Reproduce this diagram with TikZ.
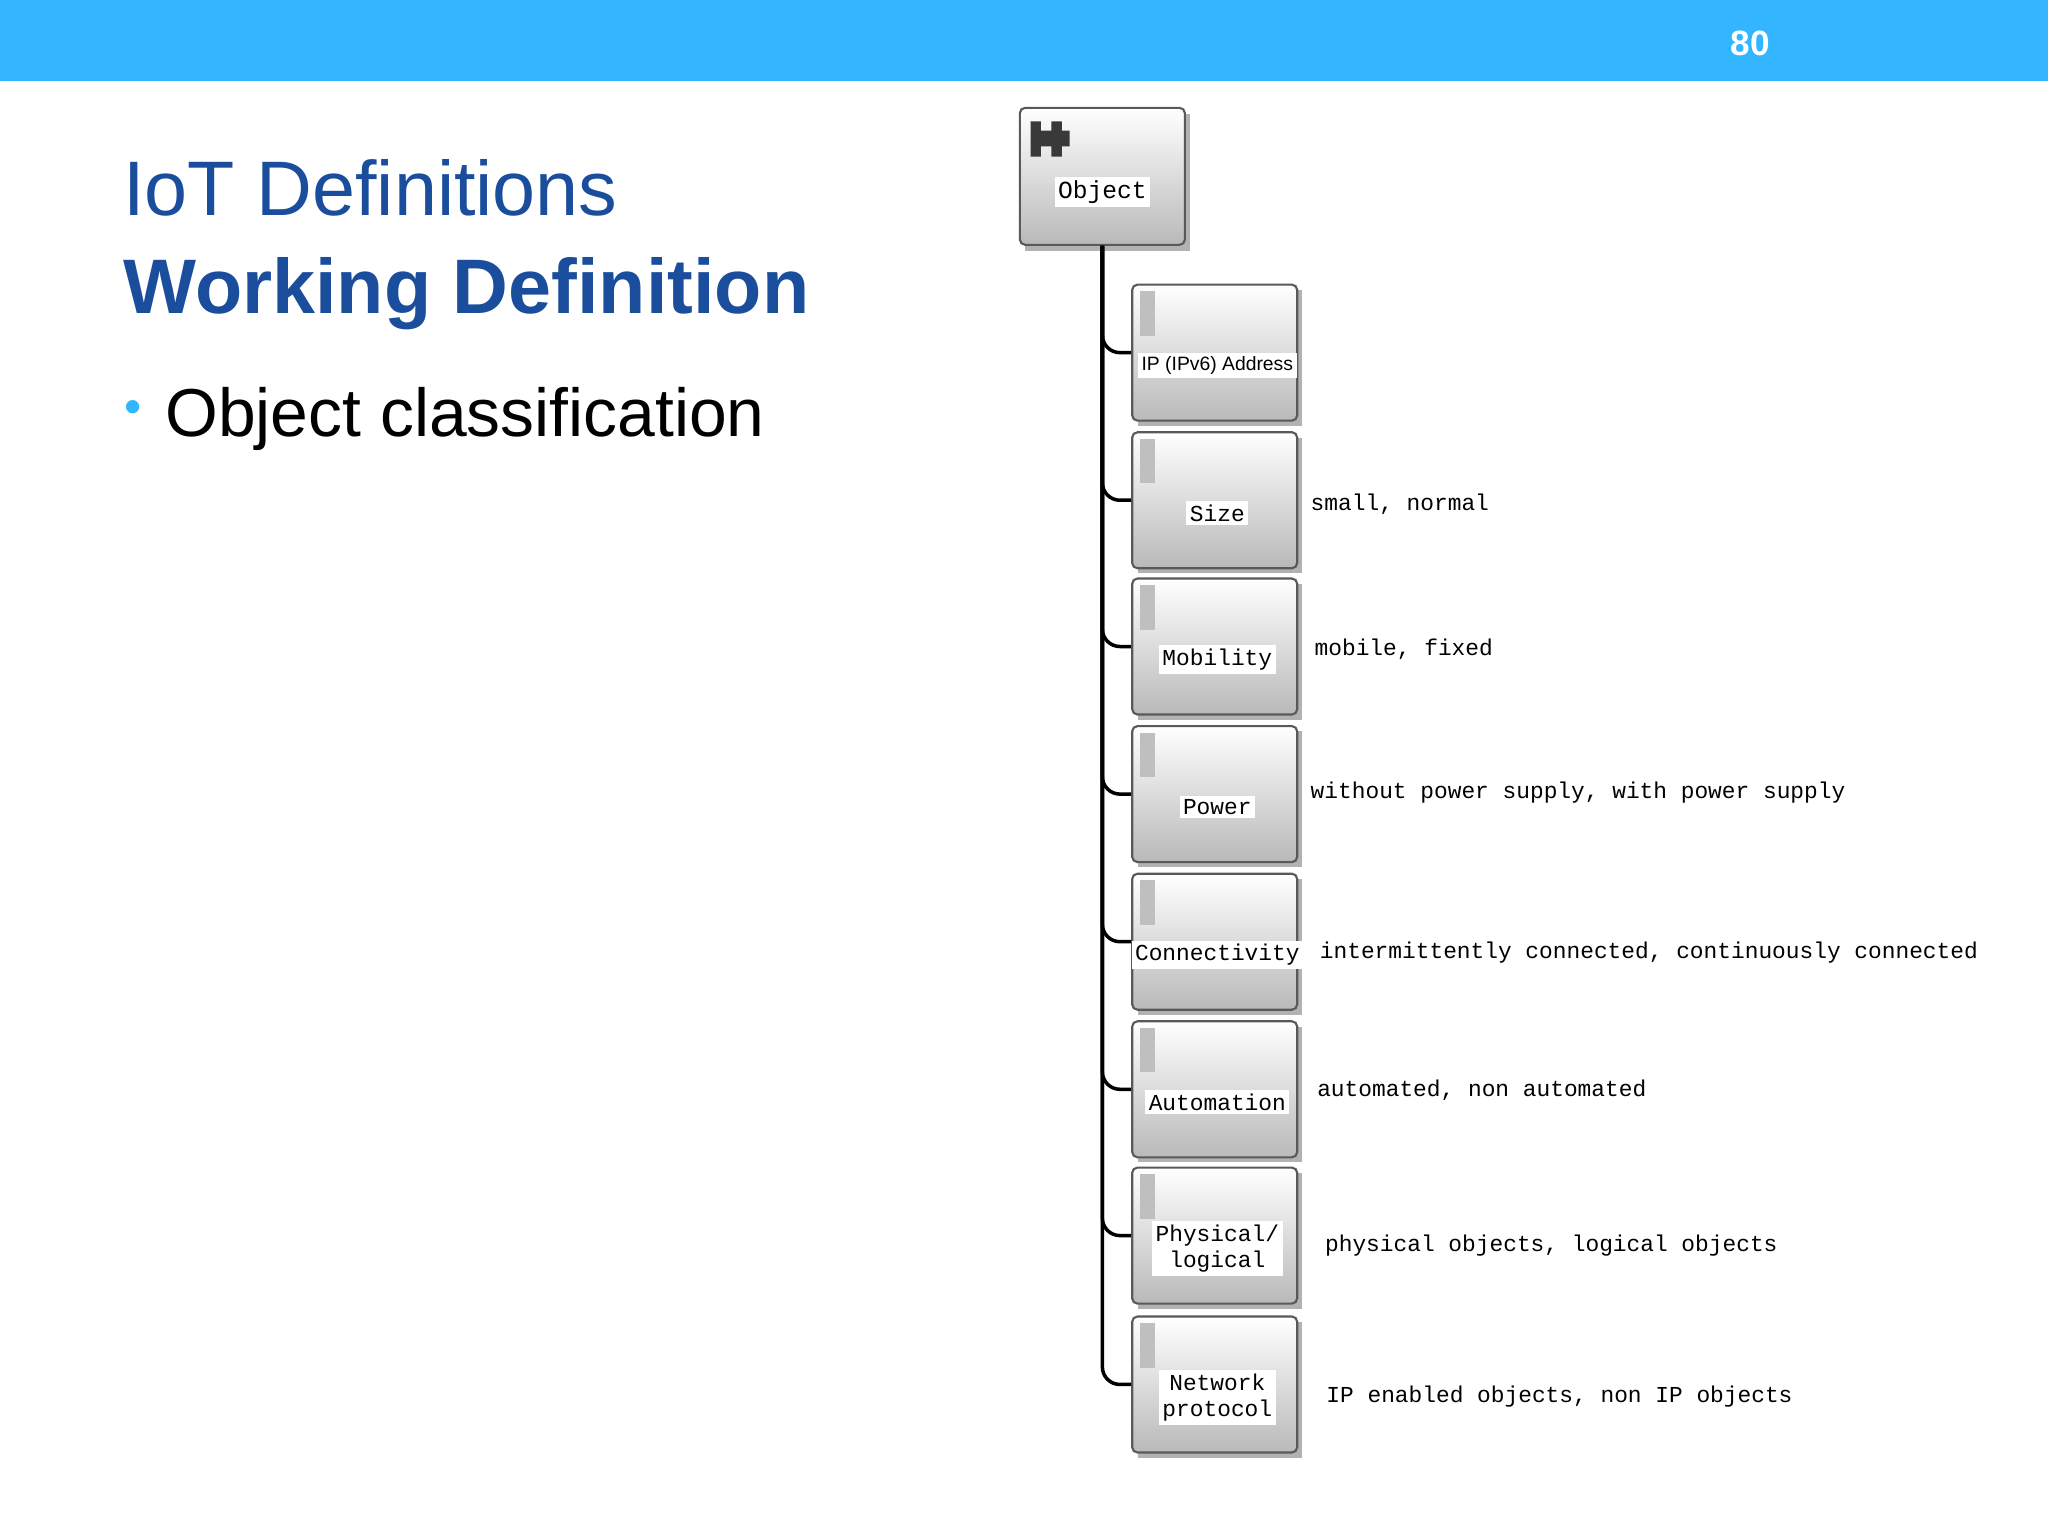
\documentclass[tikz,border=0pt]{standalone}
\usepackage{fontspec}
\setmainfont{Liberation Sans}
\newfontfamily\dmono{Liberation Mono}
\definecolor{barblue}{HTML}{33B5FF}
\definecolor{titleblue}{HTML}{1A4E9C}
\begin{document}
\begin{tikzpicture}[x=0.013061cm,y=-0.013061cm,
  box/.style={draw=gray!70!black,line width=0.6pt,rounded corners=1.5pt,top color=white,bottom color=gray!55,
     minimum width=1.65cm,minimum height=1.36cm,inner sep=0pt},
  lbl/.style={fill=white,inner sep=1pt,font=\dmono\fontsize{6.5}{7.5}\selectfont,align=center},
  desc/.style={anchor=west,inner sep=0pt,font=\dmono\fontsize{6.5}{7.5}\selectfont},
  conn/.style={line width=1pt,rounded corners=5pt}]
\useasboundingbox (0,0) rectangle (1568,1176);
\fill[barblue] (0,0) rectangle (1568,62);
\node[text=white,font=\bfseries\fontsize{10}{12}\selectfont] (pg) at (1340,33) {80};
\node[anchor=base west,text=titleblue,font=\fontsize{22}{26}\selectfont,inner sep=0pt] (t1) at (94,165) {IoT Definitions};
\node[anchor=base west,text=titleblue,font=\bfseries\fontsize{22}{26}\selectfont,inner sep=0pt] (t2) at (94,240) {Working Definition};
\node[anchor=base west,text=barblue,font=\fontsize{14}{16}\selectfont,inner sep=0pt] (bul) at (95,324) {•};
\node[anchor=base west,font=\fontsize{19.3}{23}\selectfont,inner sep=0pt] (b1t) at (126,334) {Object classification};
% object
\fill[gray!60] (785,87) rectangle (911,192);
\node[box,minimum height=1.37cm] (obj) at (844,135) {};
\fill[gray!45!black] (789,93) rectangle (797,120) (805,93) rectangle (813,120) (789,100) rectangle (819,112);
\node[lbl,font=\dmono\fontsize{7}{8}\selectfont] (objl) at (844,147) {Object};
\foreach \n/\yc/\txt/\d/\dx/\dy in {
  c1/270/{\rmfamily\fontsize{5.5}{7}\selectfont IP (IPv6) Address}//1003/386,
  c2/383/Size/{small, normal}/1003/386,
  c3/495/Mobility/{mobile, fixed}/1006/497,
  c4/608/Power/{without power supply, with power supply}/1003/607,
  c5/721/Connectivity/{intermittently connected, continuously connected}/1010/729,
  c6/834/Automation/{automated, non automated}/1008/835,
  c7/946/{Physical/\\logical}/{physical objects, logical objects}/1014/954,
  c8/1060/{Network\\protocol}/{IP enabled objects, non IP objects}/1015/1069}{
  \fill[gray!60] (871,\yc-48) rectangle (997,\yc+56);
  \node[box] (\n) at (930,\yc) {};
  \fill[gray!50] (873,\yc-47) rectangle (884,\yc-13);
  \node[lbl] (\n l) at (932,\yc+10) {\txt};
  \node[desc] (\n d) at (\dx,\dy) {\d};
  \draw[conn] (obj.south) |- (\n.west);
}
\end{tikzpicture}
\end{document}
